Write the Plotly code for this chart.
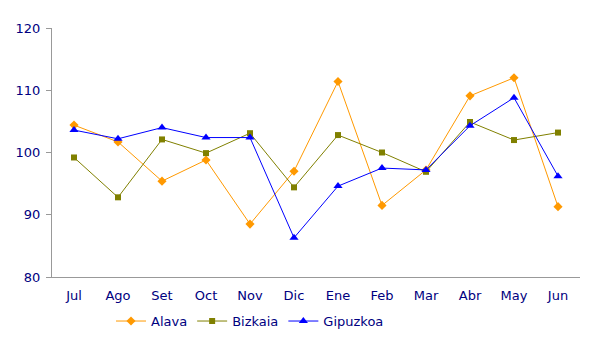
import plotly.graph_objects as go

months = ["Jul", "Ago", "Set", "Oct", "Nov", "Dic", "Ene", "Feb", "Mar", "Abr", "May", "Jun"]
alava = [104.4, 101.7, 95.4, 98.8, 88.5, 97.0, 111.4, 91.5, 97.2, 109.1, 112.0, 91.3]
bizkaia = [99.2, 92.8, 102.1, 99.9, 103.1, 94.4, 102.8, 100.0, 96.9, 104.9, 102.0, 103.2]
gipuzkoa = [103.6, 102.2, 104.0, 102.4, 102.4, 86.3, 94.6, 97.5, 97.2, 104.3, 108.8, 96.2]
y_ticks = [80, 90, 100, 110, 120]

navy = "#000080"
fig = go.Figure()
fig.add_trace(go.Scatter(x=months, y=alava, name="Alava", mode="lines+markers",
                         line=dict(color="#FF9900", width=1),
                         marker=dict(symbol="diamond", size=7, color="#FF9900")))
fig.add_trace(go.Scatter(x=months, y=bizkaia, name="Bizkaia", mode="lines+markers",
                         line=dict(color="#808000", width=1),
                         marker=dict(symbol="square", size=6, color="#808000")))
fig.add_trace(go.Scatter(x=months, y=gipuzkoa, name="Gipuzkoa", mode="lines+markers",
                         line=dict(color="#0000FF", width=1),
                         marker=dict(symbol="triangle-up", size=8, color="#0000FF")))

fig.update_layout(
    width=606, height=338,
    margin=dict(l=52, r=26, t=28, b=61, autoexpand=False),
    paper_bgcolor="white", plot_bgcolor="white",
    font=dict(family="DejaVu Sans", size=13, color=navy),
    showlegend=True,
    legend=dict(orientation="h", x=0.375, xanchor="center", y=-0.177, yanchor="middle",
                font=dict(size=13, color=navy), tracegroupgap=0,
                itemwidth=30),
    xaxis=dict(type="category", showgrid=False, showline=True, linecolor="#999999",
               linewidth=1, ticks="", tickfont=dict(color=navy, size=13), range=[-0.5, 11.5],
               zeroline=False, ticklabelstandoff=6),
    yaxis=dict(range=[80, 120], tickvals=y_ticks, showgrid=False, showline=True,
               linecolor="#999999", linewidth=1, ticks="outside", ticklen=5,
               tickcolor="#999999", tickfont=dict(color=navy, size=13), zeroline=False,
               ticklabelstandoff=3),
)
fig.write_html("out.html")
